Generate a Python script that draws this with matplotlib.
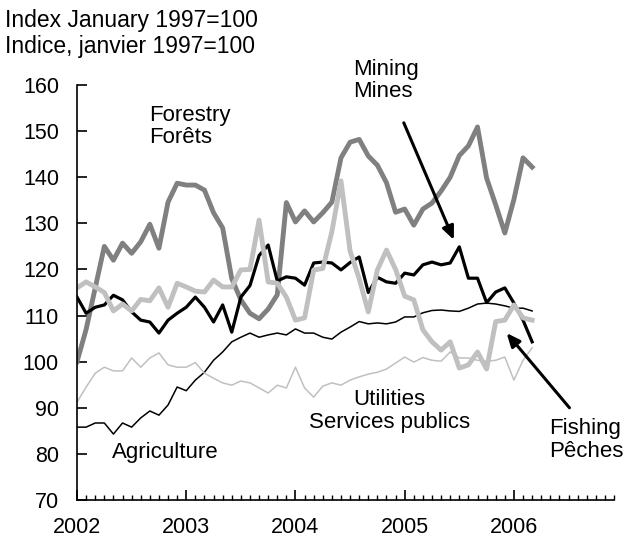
import numpy as np
import matplotlib
matplotlib.use("Agg")
import matplotlib.pyplot as plt

plt.rcParams["font.family"] = ["Liberation Sans", "DejaVu Sans"]

# monthly index values, January 2002 to March 2006
forestry = [100, 107, 116, 125, 122, 125.7, 123.5, 126, 129.8, 124.6, 134.6, 138.7,
            138.3, 138.3, 137.2, 132.3, 129, 118, 113.4, 110.5, 109.3, 111.4, 114.5, 134.5,
            130.3, 132.7, 130.3, 132.3, 134.6, 144.2, 147.6, 148.2, 144.6, 142.6, 138.8, 132.4,
            133.1, 129.6, 133.1, 134.4, 137, 140, 144.7, 146.8, 150.9, 139.8, 134, 127.9,
            135.2, 144.2, 142.2]
mining = [114, 110.5, 111.8, 112.3, 114.4, 113.4, 110.8, 109, 108.6, 106.2, 109, 110.5,
          111.8, 114, 111.8, 108.6, 112.3, 106.4, 114, 116.5, 123, 125.3, 117.5, 118.4,
          118.1, 116.6, 121.4, 121.6, 121.4, 119.9, 121.5, 122.7, 115, 118.3, 117.3, 117,
          119.2, 118.8, 121, 121.6, 121, 121.4, 124.9, 118.1, 118.1, 112.8, 115.1, 116,
          112.7, 109, 104.3]
fishing = [116, 117.3, 116.2, 115, 111, 112.5, 111, 113.5, 113.2, 116, 111.8, 117,
           116.2, 115.3, 115.1, 117.7, 116.2, 116.2, 119.9, 120, 130.7, 117.3, 117, 114,
           109, 109.5, 119.9, 120.2, 128.2, 139.2, 124, 118, 110.8, 119.9, 124.2, 120,
           114.2, 113.4, 106.9, 104.3, 102.5, 104.3, 98.6, 99.3, 102.1, 98.4, 108.7, 109,
           112.3, 109.5, 109]
agriculture = [85.8, 85.8, 86.7, 86.7, 84.3, 86.7, 85.8, 87.8, 89.3, 88.4, 90.6, 94.5,
               93.7, 96, 97.7, 100.3, 102.1, 104.3, 105.3, 106.2, 105.3, 105.8, 106.2, 105.8,
               107.1, 106.2, 106.2, 105.3, 104.9, 106.4, 107.5, 108.7, 108.2, 108.4, 108.2, 108.6,
               109.7, 109.7, 110.6, 111.1, 111.2, 111, 110.9, 111.6, 112.5, 112.7, 112.5, 112.1,
               111.6, 111.6, 111]
utilities = [91.2, 94.5, 97.5, 98.8, 98, 98, 100.8, 98.8, 100.8, 101.9, 99.3, 98.8,
             98.8, 99.8, 97.5, 96.4, 95.4, 94.9, 95.8, 95.4, 94.3, 93.2, 94.9, 94.3,
             98.8, 94.3, 92.3, 94.7, 95.4, 94.9, 96, 96.7, 97.3, 97.7, 98.4, 99.7,
             101, 99.9, 100.9, 100.3, 100.1, 102.1, 100.8, 100.8, 100.3, 100.1, 100.3, 101,
             96, 100.3, 103]
years = ["2002", "2003", "2004", "2005", "2006"]

months = np.arange(len(forestry))

fig = plt.figure(figsize=(6.35, 5.48), dpi=100)
ax = fig.add_axes([0.1213, 0.0876, 0.8457, 0.7573])

ax.plot(months, agriculture, color="black", lw=1.1)
ax.plot(months, utilities, color="#c0c0c0", lw=1.1)
ax.plot(months, forestry, color="#808080", lw=3.5)
ax.plot(months, mining, color="black", lw=2.3)
ax.plot(months, fishing, color="#c0c0c0", lw=3.5)

ax.set_xlim(0, 59)
ax.set_ylim(70, 160)
ax.set_yticks(np.arange(70, 161, 10))
ax.set_xticks(np.arange(0, 60, 12))
ax.set_xticklabels(years)
ax.set_xticks(np.arange(0, 60), minor=True)
for s in ("top", "right"):
    ax.spines[s].set_visible(False)
for s in ("left", "bottom"):
    ax.spines[s].set_linewidth(1.2)
ax.tick_params(axis="both", which="major", direction="in", length=7, width=1.2,
               labelsize=15.5)
ax.tick_params(axis="x", which="minor", direction="in", length=3.5, width=1.0)
ax.tick_params(axis="x", pad=12)
ax.tick_params(axis="y", pad=13)

fs = 16
ax.text(7.9, 151, "Forestry\nForêts", fontsize=fs, ha="left", va="center", linespacing=1.1)
ax.text(30.3, 161, "Mining\nMines", fontsize=fs, ha="left", va="center",
        linespacing=1.1, clip_on=False)
ax.text(34.3, 89.3, "Utilities\nServices publics", fontsize=fs, ha="center",
        va="center", linespacing=1.1, multialignment="center")
ax.text(3.85, 80.3, "Agriculture", fontsize=fs, ha="left", va="center")
ax.text(51.9, 83, "Fishing\nPêches", fontsize=fs, ha="left", va="center", linespacing=1.1,
        clip_on=False)

arrow = dict(arrowstyle="-|>,head_length=0.8,head_width=0.35", color="black", lw=2.2,
             shrinkA=0, shrinkB=0)
ax.annotate("", xy=(41.4, 126.4), xytext=(35.9, 151.8), arrowprops=arrow, annotation_clip=False)
ax.annotate("", xy=(47.2, 106.2), xytext=(54.1, 90), arrowprops=arrow, annotation_clip=False)

fig.text(5 / 635, 1 - 21 / 548, "Index January 1997=100", fontsize=16.5, ha="left", va="center")
fig.text(5 / 635, 1 - 47 / 548, "Indice, janvier 1997=100", fontsize=16.5, ha="left", va="center")

fig.savefig("out.png", dpi=100)
